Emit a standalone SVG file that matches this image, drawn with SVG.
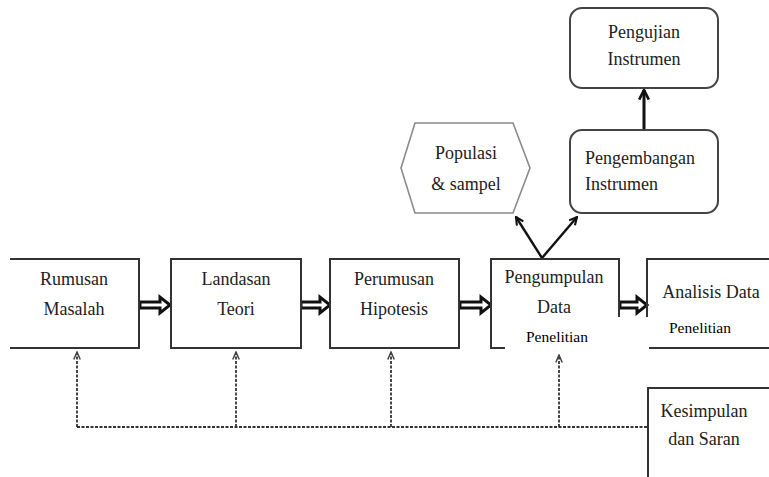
<svg xmlns="http://www.w3.org/2000/svg" width="769" height="477" viewBox="0 0 769 477">
<style>
.box{fill:#fff;stroke:#333;stroke-width:2}
.rbox{fill:#fff;stroke:#444;stroke-width:2}
.hex{fill:#fff;stroke:#8a8a8a;stroke-width:1.6}
.ln{fill:none;stroke:#333;stroke-width:2}
text{font-family:'Liberation Serif','Times New Roman',Times,serif}
.t{font-size:18px;fill:#222;text-anchor:middle}
.ts{font-size:15.5px;fill:#000;text-anchor:middle}
.dash{fill:none;stroke:#333;stroke-width:1.8;stroke-dasharray:3 1.5}
.dbl{fill:#fff;stroke:#111;stroke-width:3;stroke-linejoin:miter}
.thick{fill:none;stroke:#111;stroke-width:3}
.thin{fill:none;stroke:#111;stroke-width:2.4}
</style>
<defs>
<marker id="open" viewBox="0 0 10 10" refX="9" refY="5" markerWidth="4" markerHeight="4" orient="auto">
<path d="M1,1 L9,5 L1,9" fill="none" stroke="#111" stroke-width="2.2"/>
</marker>
<marker id="small" viewBox="0 0 10 10" refX="9" refY="5" markerWidth="6" markerHeight="6" orient="auto">
<path d="M2,2 L9,5 L2,8" fill="none" stroke="#444" stroke-width="1.4"/>
</marker>
</defs>
<rect width="769" height="477" fill="#fff"/>

<g id="connectors">
<polygon class="dbl" points="140,302 160,302 160,297 170,305 160,313 160,308 140,308"/>
<polygon class="dbl" points="301,302 320,302 320,297 330,305 320,313 320,308 301,308"/>
<polygon class="dbl" points="460,302 481,302 481,297 491,305 481,313 481,308 460,308"/>
<polygon class="dbl" points="620,302 637,302 637,297 647,305 637,313 637,308 620,308"/>
<line class="thin" x1="542" y1="258" x2="516" y2="217" marker-end="url(#open)"/>
<line class="thin" x1="542" y1="258" x2="577" y2="217" marker-end="url(#open)"/>
<line class="thick" x1="644" y1="130" x2="644" y2="90" marker-end="url(#open)"/>
<path class="dash" d="M647,427 L77,427"/>
<line class="dash" x1="77" y1="427" x2="77" y2="352" marker-end="url(#small)"/>
<line class="dash" x1="236" y1="427" x2="236" y2="352" marker-end="url(#small)"/>
<line class="dash" x1="391" y1="427" x2="391" y2="352" marker-end="url(#small)"/>
<line class="dash" x1="559" y1="427" x2="559" y2="355" marker-end="url(#small)"/>
</g>

<g id="rumusan">
<path class="ln" d="M10,259 L139,259 L139,348 L10,348"/>
<text class="t" x="74" y="285">Rumusan</text>
<text class="t" x="74" y="315">Masalah</text>
</g>
<g id="landasan">
<rect class="box" x="171" y="259" width="130" height="89"/>
<text class="t" x="236" y="285">Landasan</text>
<text class="t" x="236" y="315">Teori</text>
</g>
<g id="perumusan">
<rect class="box" x="330" y="259" width="129" height="89"/>
<text class="t" x="394" y="285">Perumusan</text>
<text class="t" x="394" y="315">Hipotesis</text>
</g>
<g id="pengumpulan">
<rect class="box" x="491" y="259" width="128" height="89"/>
<text class="t" x="554" y="283">Pengumpulan</text>
<text class="t" x="554" y="313">Data</text>
</g>
<g id="analisis">
<path class="ln" d="M769,259 L647,259 L647,348 L769,348"/>
<text class="t" x="711" y="298">Analisis Data</text>
</g>
<rect x="505" y="317" width="144" height="36" fill="#fff"/>
<text class="ts" x="557" y="342">Penelitian</text>
<text class="ts" x="700" y="333">Penelitian</text>

<g id="kesimpulan">
<path class="ln" d="M769,388 L648,388 L648,477"/>
<text class="t" x="704" y="417">Kesimpulan</text>
<text class="t" x="704" y="445">dan Saran</text>
</g>
<g id="populasi">
<polygon class="hex" points="401,168 415,123 513,123 530,168 513,213 415,213"/>
<text class="t" x="466" y="159">Populasi</text>
<text class="t" x="466" y="190">&amp; sampel</text>
</g>
<g id="pengembangan">
<rect class="rbox" x="570" y="130" width="148" height="83" rx="12"/>
<text class="t" x="585" y="164" style="text-anchor:start">Pengembangan</text>
<text class="t" x="585" y="190" style="text-anchor:start">Instrumen</text>
</g>
<g id="pengujian">
<rect class="rbox" x="570" y="8" width="148" height="80" rx="12"/>
<text class="t" x="644" y="38">Pengujian</text>
<text class="t" x="644" y="65">Instrumen</text>
</g>
</svg>
